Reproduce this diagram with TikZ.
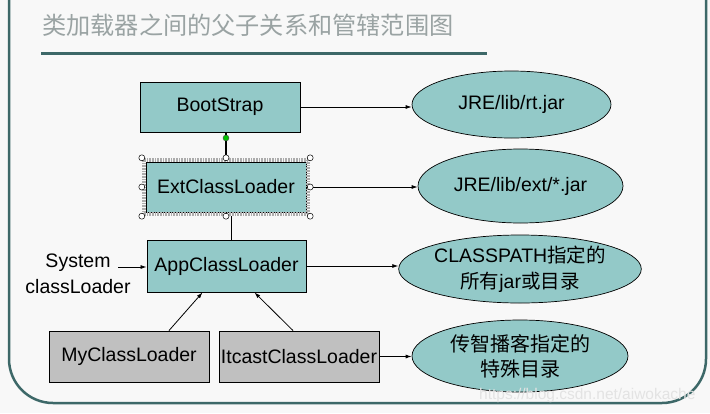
\documentclass[tikz,border=0pt]{standalone}
\usepackage{fontspec}
\setmainfont{Liberation Sans}
\newfontfamily\cjk{Noto Sans CJK SC}
\usetikzlibrary{arrows.meta,shapes.geometric}
\definecolor{bgc}{HTML}{F8F8F8}
\definecolor{tealfill}{HTML}{93C9C8}
\definecolor{grayfill}{HTML}{C0C0C0}
\definecolor{framec}{HTML}{3D6868}
\definecolor{titlec}{HTML}{9AA3A3}
\tikzset{
  tbox/.style={rectangle, draw=black, line width=0.9pt, fill=tealfill, minimum width=160pt, minimum height=50pt, inner sep=0pt},
  gbox/.style={tbox, fill=grayfill},
  ell/.style={ellipse, draw=black, line width=0.7pt, fill=tealfill, inner sep=0pt, align=center},
  arr/.style={-{Latex[length=6pt,width=4pt]}, line width=0.8pt},
  handle/.style={circle, draw=black, fill=white, line width=0.5pt, minimum size=6pt, inner sep=0pt},
  band/.style={draw=gray!65, line width=4pt, dash pattern=on 0.8pt off 0.8pt}
}
\begin{document}
\begin{tikzpicture}[x=1pt,y=-1pt,font=\fontsize{19.5}{26}\selectfont]
\fill[bgc] (0,0) rectangle (710,413);
\useasboundingbox (0,0) rectangle (710,413);
% frame
\draw[framec, line width=2.5pt, rounded corners=44pt] (9,-5) -- (9,403) -- (706,403) -- (706,-5);
% title
\node[anchor=west, inner sep=0pt, text=titlec, font=\cjk\fontsize{24.2}{26}\selectfont] (title) at (42,25) {类加载器之间的父子关系和管辖范围图};
\draw[framec, line width=3pt] (41,53) -- (487,53);

% boxes
\node[tbox] (b) at (220,107) {BootStrap};
\node[tbox] (e) at (226,187) {ExtClassLoader};
\node[tbox, minimum width=159pt, minimum height=52pt] (a) at (226.5,266) {AppClassLoader};
\node[gbox, minimum height=51pt] (my) at (129,356.5) {MyClassLoader};
\node[gbox, minimum height=51pt] (it) at (299,356.5) {ItcastClassLoader};

% selection around ExtClassLoader
\node[minimum width=168pt, minimum height=58pt, inner sep=0pt] (sel) at (e.center) {};
\draw[band] ([shift={(2,2)}]sel.north west) rectangle ([shift={(-2,-2)}]sel.south east);

% ellipses
\node[ell, minimum width=199pt, minimum height=67pt] (r1) at (511.5,104.5) {JRE/lib/rt.jar};
\node[ell, minimum width=205pt, minimum height=74pt] (r2) at (520.5,186) {JRE/lib/ext/*.jar};
\node[ell, minimum width=216pt, minimum height=68pt] (r3) at (520,269) {CLASSPATH{\cjk 指定的}\\{\cjk 所有}jar{\cjk 或目录}};
\node[ell, minimum width=216pt, minimum height=72pt, font=\cjk\fontsize{20}{25}\selectfont] (r4) at (520,356) {传智播客指定的\\特殊目录};

% system classloader label
\node[align=center, inner sep=0pt] (sys) at (78,274) {System\\classLoader};
\coordinate (sysarr) at (118,267);

% connectors
\draw[line width=1.5pt] (sel.north |- b.south) -- (sel.north);
\node[circle, draw=black!70, fill=green!75!black, line width=0.4pt, minimum size=6pt, inner sep=0pt] (g) at (226,138) {};
\coordinate (ea) at (231,216);
\draw[line width=0.9pt] (ea) -- (ea |- a.north);

\draw[arr] (b.east) -- (b.east -| r1.west);
\draw[arr] (e.east) -- (e.east -| r2.west);
\draw[arr] (a.east) -- (a.east -| r3.west);
\draw[arr] (it.east) -- (it.east -| r4.west);
\draw[arr] (sysarr) -- (sysarr -| a.west);
\draw[arr] ([xshift=40pt]my.north) -- ([xshift=-24pt]a.south);
\draw[arr] ([xshift=-6pt]it.north) -- ([xshift=28pt]a.south);

% selection handles
\foreach \p in {north west, north, north east, east, south east, south, south west, west}
  \node[handle] at (sel.\p) {};

% watermark
\node[anchor=west, inner sep=0pt, text=gray!22, font=\fontsize{15.5}{16}\selectfont] (wm) at (479,395) {https://blog.csdn.net/aiwokache};
\end{tikzpicture}
\end{document}
